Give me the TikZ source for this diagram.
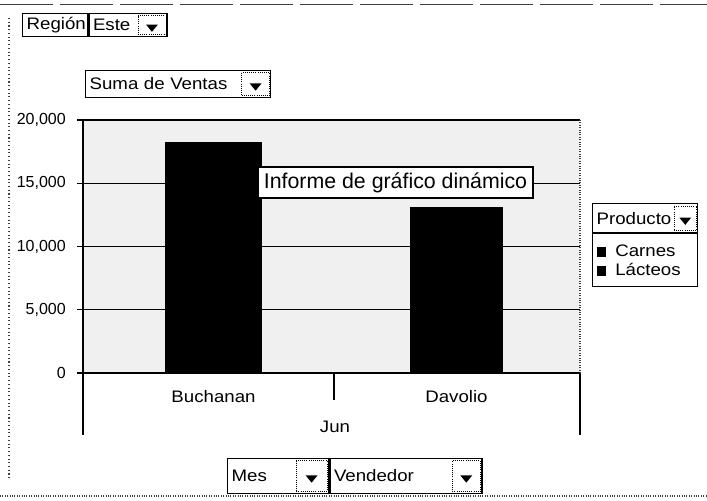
\documentclass[tikz,border=0pt]{standalone}
\usepackage{fontspec}
\setmainfont{Liberation Sans}
\newfontfamily\uifont[FakeStretch=1.12]{Liberation Sans}
\usetikzlibrary{positioning}
\usetikzlibrary{calc}
\tikzset{fieldBox/.style={draw, line width=1pt, fill=white, anchor=north west, inner xsep=3pt, inner ysep=0pt, align=left, text width=#1, font=\uifont\fontsize{12.5}{14.25}\selectfont}}
\tikzset{dropBtn/.style={draw, densely dotted, line width=0.6pt, fill=white, minimum width=#1, inner sep=0pt, path picture={\fill[black] ([xshift=-4.5pt,yshift=0.5pt]path picture bounding box.center) -- ++(9pt,0) -- ++(-4.5pt,-5.5pt) -- cycle;}}}
\tikzset{axisLabel/.style={anchor=east, inner sep=0pt, font=\fontsize{12}{14}\selectfont}}
\tikzset{catLabel/.style={inner sep=0pt, font=\uifont\fontsize{12.5}{14}\selectfont}}
\tikzset{gridLine/.style={line width=1.1pt}}
\begin{document}
\begin{tikzpicture}[x=0.75pt, y=-0.75pt]
\useasboundingbox (0,0) rectangle (707,500);
% page frame
\draw[gray!50!black, line width=0.6pt, dash pattern=on 40pt off 5pt] (0,4) -- (707,4);
\draw[gray!50!black, line width=0.8pt, dotted] (9,18) -- (9,480);
\draw[gray!50!black, line width=0.8pt, densely dotted] (0,496) -- (707,496);

% page field
\node[fieldBox=42.75pt, minimum height=17.25pt] (region) at (22,13) {Región};
\node[fieldBox=52.5pt, minimum height=17.25pt, right=0pt of region] (este) {Este};
\node[dropBtn=21pt, minimum height=14.5pt, left=1pt of este.east] (esteBtn) {};

% data field
\node[fieldBox=132.75pt, minimum height=20pt] (suma) at (85,70) {Suma de Ventas};
\node[dropBtn=21pt, minimum height=17pt, left=1pt of suma.east] (sumaBtn) {};

% plot area
\fill[gray!12] (83,120) rectangle (580,373);
\draw[gridLine] (77,120) -- (580,120);
\draw[gridLine] (77,183.25) -- (580,183.25);
\draw[gridLine] (77,246.5) -- (580,246.5);
\draw[gridLine] (77,309.75) -- (580,309.75);
\draw[gray!50!black, line width=0.8pt, densely dotted] (580,120) -- (580,373);

% bars
\fill[black] (165,142) rectangle (262,373);
\fill[black] (410,207) rectangle (503,373);

% axes
\draw[gridLine] (83,120) -- (83,435);
\draw[gridLine] (77,373) -- (580,373);
\draw[line width=0.8pt] (580,373) -- (580,435);
\draw[line width=0.8pt] (334,373) -- (334,400);

\node[axisLabel] (v20) at (66,120) {20,000};
\node[axisLabel] (v15) at (66,183.25) {15,000};
\node[axisLabel] (v10) at (66,246.5) {10,000};
\node[axisLabel] (v5) at (66,309.75) {5,000};
\node[axisLabel] (v0) at (66,373) {0};

\node[catLabel] (buchanan) at (213.5,397) {Buchanan};
\node[catLabel] (davolio) at (456.5,397) {Davolio};
\node[catLabel] (jun) at (335,427) {Jun};

% tooltip
\node[draw, line width=0.9pt, fill=white, minimum width=206.25pt, minimum height=23.25pt, inner sep=0pt, font=\fontsize{16}{18}\selectfont] (informe) at (395.5,182.5) {Informe de gráfico dinámico};

% legend
\node[fieldBox=72.75pt, minimum height=21.75pt] (producto) at (592,203) {Producto};
\node[dropBtn=17pt, minimum height=18pt, left=1pt of producto.east] (productoBtn) {};
\node[fieldBox=72.75pt, line width=0.8pt, minimum height=39.75pt, below=0pt of producto] (leyenda) {\rule{7pt}{7pt}\hspace{7pt}Carnes\\\rule{7pt}{7pt}\hspace{7pt}Lácteos};

% row fields
\node[fieldBox=69.75pt, minimum height=26pt] (mes) at (227,458) {Mes};
\node[dropBtn=23pt, minimum height=23pt, left=1.5pt of mes.east] (mesBtn) {};
\node[fieldBox=108pt, minimum height=26pt, right=0pt of mes] (vendedor) {Vendedor};
\node[dropBtn=21pt, minimum height=23pt, left=1.5pt of vendedor.east] (vendedorBtn) {};
\end{tikzpicture}
\end{document}
